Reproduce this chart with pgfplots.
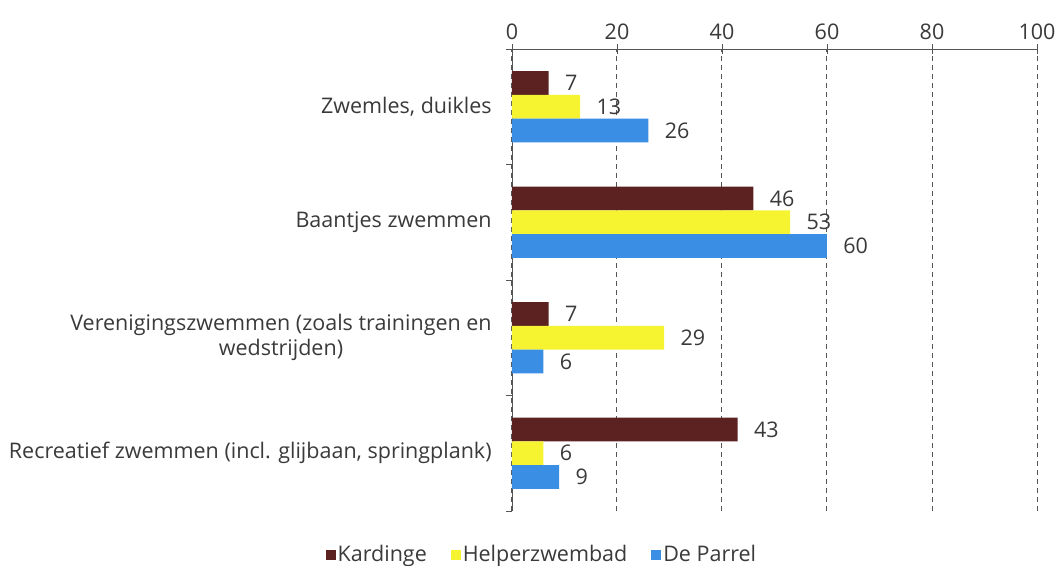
\documentclass[border=0pt]{standalone}
\usepackage{pgfplots}
\pgfplotsset{compat=1.18}
\usepackage{fontspec}
\setmainfont{Open Sans}
\definecolor{kard}{RGB}{92,34,34}
\definecolor{helper}{RGB}{246,244,48}
\definecolor{parrel}{RGB}{58,142,228}
\definecolor{txt}{RGB}{58,58,58}
\definecolor{gridc}{RGB}{85,85,85}
\newcommand{\fs}{\fontsize{21.5bp}{25bp}\selectfont}
\begin{document}
\begin{tikzpicture}
\useasboundingbox (-512bp,-55bp) rectangle (548bp,511bp);
\fs
\begin{axis}[
  scale only axis, width=525bp, height=462bp,
  at={(0,0)}, anchor=south west,
  /pgf/number format/assume math mode=true,
  xbar, bar width=23.7bp,
  xmin=0, xmax=100, ymin=-0.5, ymax=3.5,
  axis x line*=top, axis y line*=left,
  axis line style={-, line width=0.9pt, draw=gridc},
  xtick={0,20,40,60,80,100},
  tick align=center, major tick length=10bp,
  tick style={line width=0.9pt, draw=gridc},
  xmajorgrids, grid style={dashed, dash pattern=on 5bp off 4bp, line width=1pt, draw=gridc},
  ytick={0,1,2,3},
  yticklabels={{Recreatief zwemmen (incl. glijbaan, springplank)},{Verenigingszwemmen (zoals trainingen en\\wedstrijden)},{Baantjes zwemmen},{Zwemles, duikles}},
  ytick style={draw=none},
  yticklabel style={align=center, text=txt, font=\fs, xshift=-8bp},
  xticklabel style={text=txt, font=\fs, yshift=-3bp},
  extra y ticks={-0.5,0.5,1.5,2.5,3.5},
  extra y tick labels={},
  extra y tick style={ytick style={draw=gridc}, tick align=outside, major tick length=6bp},
  nodes near coords,
  nodes near coords style={anchor=west, xshift=9bp, text=txt, font=\fs},
  legend columns=3,
  legend style={at={(0.057,-0.095)}, anchor=center, draw=none, fill=none,
    font=\fs, text=txt,
    /tikz/every even column/.append style={column sep=22bp}},
  legend image code/.code={\fill[#1] (0bp,-5bp) rectangle (10bp,5bp);},
]
\addplot[fill=kard, draw=none, bar shift=23.7bp] coordinates {(43,0) (7,1) (46,2) (7,3)};
\addplot[fill=helper, draw=none, bar shift=0bp] coordinates {(6,0) (29,1) (53,2) (13,3)};
\addplot[fill=parrel, draw=none, bar shift=-23.7bp] coordinates {(9,0) (6,1) (60,2) (26,3)};
\legend{Kardinge,Helperzwembad,De Parrel}
\end{axis}
\end{tikzpicture}
\end{document}
